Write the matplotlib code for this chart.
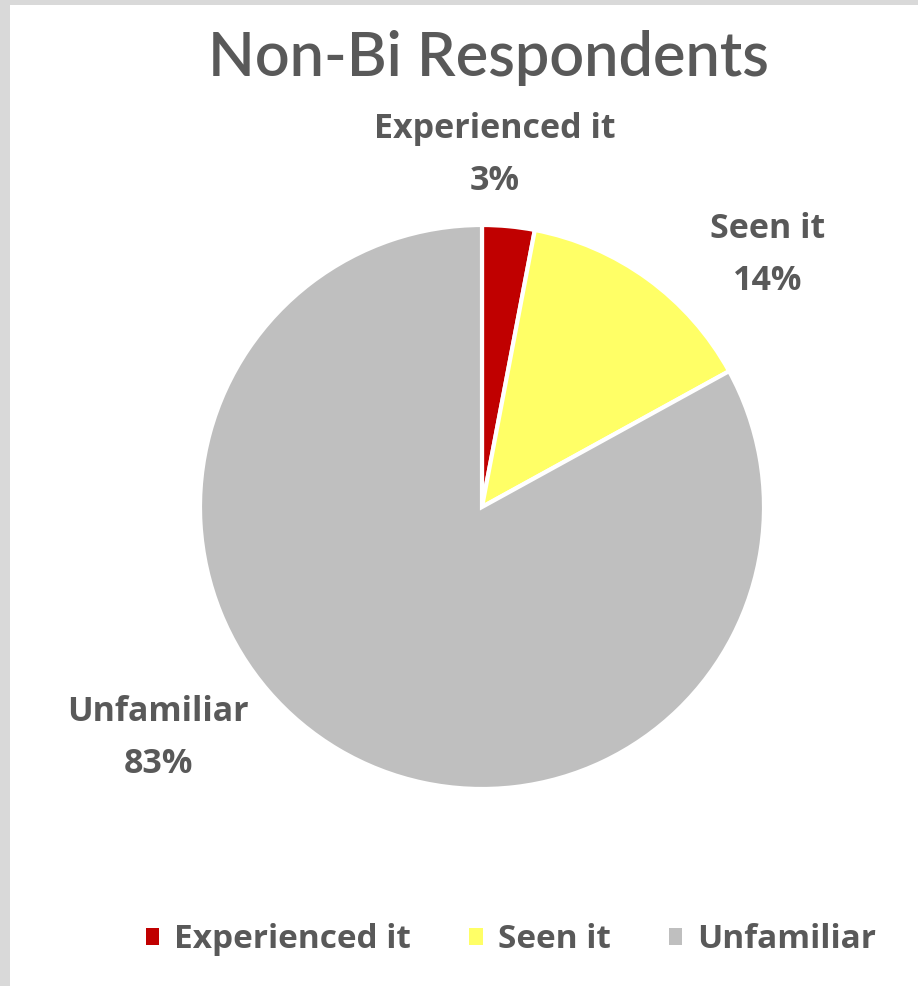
import matplotlib
matplotlib.use("Agg")
from matplotlib import pyplot as plt
from matplotlib.patches import Rectangle

# data
categories = ["Experienced it", "Seen it", "Unfamiliar"]
shares = [3, 14, 83]
pct_labels = ["3%", "14%", "83%"]
colors = ["#C00000", "#FFFF66", "#BFBFBF"]

text_color = "#595959"
plt.rcParams["font.family"] = ["Open Sans", "DejaVu Sans"]

W, H = 918, 986
fig = plt.figure(figsize=(W / 100, H / 100), dpi=100, facecolor="#d9d9d9")
fig.patches.append(Rectangle((10 / W, 0), 1 - 10 / W, 1 - 5 / H,
                             transform=fig.transFigure, facecolor="white",
                             edgecolor="none", zorder=-10))

# pie axes: centre (482, 507) px, radius 282 px
cx, cy, r = 482, 507, 282
ax = fig.add_axes([(cx - r) / W, (H - cy - r) / H, 2 * r / W, 2 * r / H])

wedges, _ = ax.pie(shares, colors=colors, startangle=90, counterclock=False,
                   radius=1, wedgeprops=dict(edgecolor="white", linewidth=3))
ax.set_xlim(-1, 1)
ax.set_ylim(-1, 1)
ax.set_aspect("equal")
ax.axis("off")

# data label positions (in radius units)
label_pos = [(0.046, 1.248), (1.014, 0.894), (-1.149, -0.819)]
for cat, pct, (x, y) in zip(categories, pct_labels, label_pos):
    ax.text(x, y, cat + "\n" + pct, ha="center", va="center",
            fontsize=24.5, fontweight="bold", color=text_color,
            linespacing=1.67, clip_on=False)

fig.text(488 / W, 1 - 58 / H, "Non-Bi Respondents", ha="center", va="center",
         fontsize=44, color=text_color, family=["Lato", "DejaVu Sans"],
         fontweight="semibold")

handles = [Rectangle((0, 0), 1, 1, facecolor=c, edgecolor="none") for c in colors]
leg = fig.legend(handles, categories, loc="center", ncol=3,
                 bbox_to_anchor=(511 / W, 1 - 940 / H), frameon=False,
                 prop=dict(size=24, weight="bold"),
                 handlelength=0.4, handleheight=0.4, handletextpad=0.45,
                 columnspacing=1.75)
for t in leg.get_texts():
    t.set_color(text_color)

fig.savefig("out.png", dpi=100, facecolor=fig.get_facecolor())
